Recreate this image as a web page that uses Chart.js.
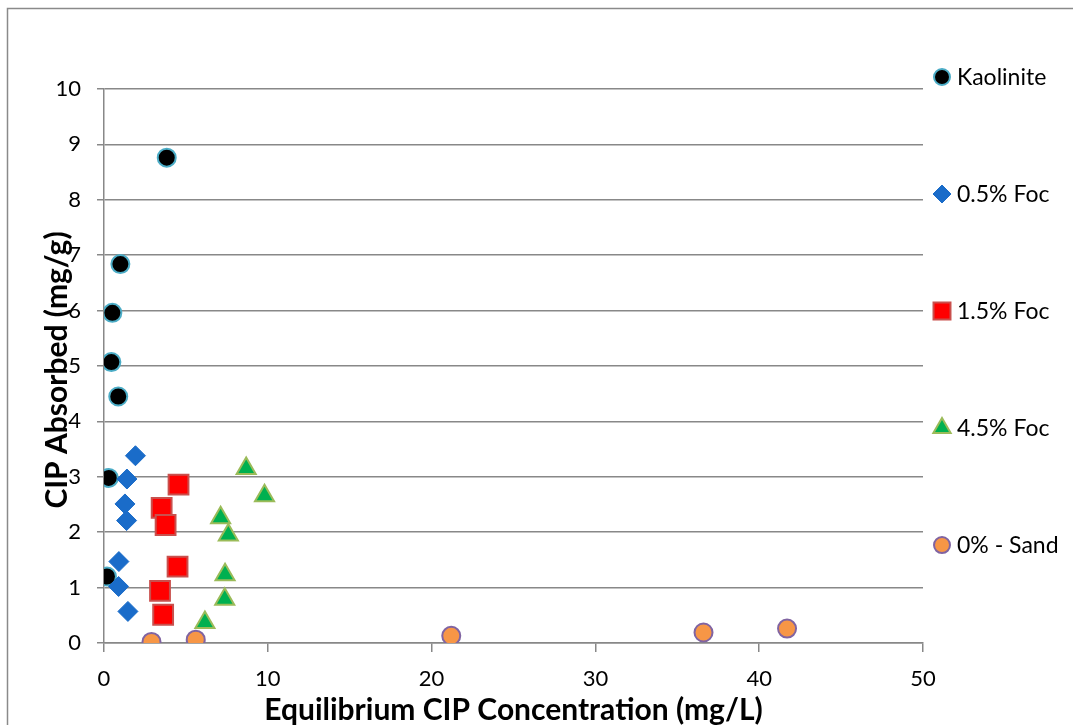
<!DOCTYPE html>
<html>
<head>
<meta charset="utf-8">
<script src="https://cdn.jsdelivr.net/npm/chart.js"></script>
<style>
  html, body { margin: 0; padding: 0; background: #fff; }
  #wrap { width: 1073px; height: 725px; position: relative; }
</style>
</head>
<body>
<div id="wrap"><canvas id="cipChart"></canvas></div>
<script>
// sorption data: equilibrium concentration (mg/L) vs amount absorbed (mg/g)
const seriesNames = ['Kaolinite', '0.5% Foc', '1.5% Foc', '4.5% Foc', '0% - Sand'];

const kaoliniteX = [3.83, 1.0, 0.51, 0.45, 0.87, 0.29, 0.18];
const kaoliniteY = [8.76, 6.84, 5.96, 5.07, 4.45, 2.98, 1.2];

const foc05X = [1.92, 1.40, 1.28, 1.38, 0.91, 0.89, 1.46];
const foc05Y = [3.38, 2.96, 2.51, 2.21, 1.47, 1.02, 0.57];

const foc15X = [4.55, 3.52, 3.76, 4.49, 3.42, 3.61];
const foc15Y = [2.86, 2.44, 2.13, 1.38, 0.94, 0.51];

const foc45X = [8.68, 9.80, 7.12, 7.59, 7.39, 7.37, 6.16];
const foc45Y = [3.15, 2.66, 2.26, 1.95, 1.23, 0.79, 0.37];

const sandX = [2.9, 5.6, 21.2, 36.6, 41.7];
const sandY = [0.02, 0.06, 0.13, 0.19, 0.26];

const xTicks = [0, 10, 20, 30, 40, 50];
const yTicks = [0, 1, 2, 3, 4, 5, 6, 7, 8, 9, 10];

const yTitle = 'CIP Absorbed (mg/g)';

const GRID = '#888888';
const FONT = 'Lato, Carlito, Calibri, sans-serif';

function pts(xs, ys) {
  return xs.map((x, i) => ({ x: x, y: ys[i] }));
}

// white page with a thin frame round the whole chart
const frame = {
  id: 'frame',
  beforeDraw(chart) {
    const ctx = chart.ctx;
    ctx.save();
    ctx.fillStyle = '#fff';
    ctx.fillRect(0, 0, chart.width, chart.height);
    ctx.strokeStyle = '#8a8a8a';
    ctx.lineWidth = 1.5;
    ctx.strokeRect(7.5, 8.5, chart.width + 20, chart.height + 20);
    ctx.restore();
  }
};

// vertical axis title, sitting partly over the tick labels
const sideTitle = {
  id: 'sideTitle',
  afterDraw(chart) {
    const ctx = chart.ctx;
    const area = chart.chartArea;
    ctx.save();
    ctx.translate(area.left - 47, (area.top + area.bottom) / 2 + 4);
    ctx.rotate(-Math.PI / 2);
    ctx.font = 'bold 30px ' + FONT;
    ctx.fillStyle = '#000';
    ctx.textAlign = 'center';
    ctx.textBaseline = 'middle';
    ctx.fillText(yTitle, 0, 0);
    ctx.restore();
  }
};

// legend spread down the right side, one entry every ~fifth of the plot height
const sideLegend = {
  id: 'sideLegend',
  afterDraw(chart) {
    const ctx = chart.ctx;
    const area = chart.chartArea;
    const step = (area.bottom - area.top) * 0.2112;
    ctx.save();
    ctx.font = '23px ' + FONT;
    ctx.textBaseline = 'middle';
    ctx.textAlign = 'left';
    chart.data.datasets.forEach((ds, i) => {
      const y = area.top - 12 + i * step;
      const x = area.right + 19;
      ctx.fillStyle = ds.backgroundColor;
      ctx.strokeStyle = ds.borderColor;
      ctx.lineWidth = ds.borderWidth;
      Chart.helpers.drawPoint(ctx, {
        pointStyle: ds.pointStyle,
        radius: ds.legendRadius,
        borderWidth: ds.borderWidth,
        rotation: 0
      }, x, y);
      ctx.fillStyle = '#000';
      ctx.fillText(ds.label, x + 15, y + 1);
    });
    ctx.restore();
  }
};

new Chart(document.getElementById('cipChart'), {
  type: 'scatter',
  data: {
    datasets: [
      {
        label: seriesNames[0],
        data: pts(kaoliniteX, kaoliniteY),
        pointStyle: 'circle',
        pointRadius: 9,
        legendRadius: 8,
        backgroundColor: '#000000',
        borderColor: '#4bacc6',
        borderWidth: 2,
        order: 4
      },
      {
        label: seriesNames[1],
        data: pts(foc05X, foc05Y),
        pointStyle: 'rectRot',
        pointRadius: 10,
        legendRadius: 9,
        backgroundColor: '#1a6cc9',
        borderColor: '#1a6cc9',
        borderWidth: 1,
        order: 3
      },
      {
        label: seriesNames[2],
        data: pts(foc15X, foc15Y),
        pointStyle: 'rect',
        pointRadius: 14,
        legendRadius: 12,
        backgroundColor: '#ff0000',
        borderColor: '#c9504d',
        borderWidth: 2,
        order: 2
      },
      {
        label: seriesNames[3],
        data: pts(foc45X, foc45Y),
        pointStyle: 'triangle',
        pointRadius: 11,
        legendRadius: 10,
        backgroundColor: '#00b050',
        borderColor: '#9bbb59',
        borderWidth: 2,
        order: 1
      },
      {
        label: seriesNames[4],
        data: pts(sandX, sandY),
        pointStyle: 'circle',
        pointRadius: 9,
        legendRadius: 8,
        backgroundColor: '#f79646',
        borderColor: '#8064a2',
        borderWidth: 2,
        order: 0
      }
    ]
  },
  options: {
    responsive: true,
    maintainAspectRatio: false,
    animation: false,
    layout: {
      padding: { left: 10, top: 89, right: 150, bottom: 0 }
    },
    plugins: {
      legend: { display: false },
      tooltip: { enabled: false }
    },
    scales: {
      x: {
        type: 'linear',
        min: 0,
        max: 50,
        afterFit: s => { s.height = 82; },
        afterBuildTicks: s => { s.ticks = xTicks.map(v => ({ value: v })); },
        grid: {
          drawOnChartArea: false,
          drawTicks: true,
          tickLength: 9,
          color: GRID,
          lineWidth: 1.5
        },
        border: { display: true, color: GRID, width: 1.5 },
        ticks: {
          color: '#000',
          padding: 14,
          font: { family: FONT, size: 22 }
        },
        title: {
          display: true,
          text: 'Equilibrium CIP Concentration (mg/L)',
          color: '#000',
          font: { family: FONT, size: 30, weight: 'bold', lineHeight: 1 },
          padding: { top: 0, bottom: 0 }
        }
      },
      y: {
        type: 'linear',
        min: 0,
        max: 10,
        afterFit: s => { s.width = 94; },
        afterBuildTicks: s => { s.ticks = yTicks.map(v => ({ value: v })); },
        grid: {
          drawOnChartArea: true,
          drawTicks: true,
          tickLength: 7,
          color: GRID,
          lineWidth: 1.5
        },
        border: { display: true, color: GRID, width: 1.5 },
        ticks: {
          color: '#000',
          padding: 16,
          font: { family: FONT, size: 22 }
        }
      }
    }
  },
  plugins: [frame, sideTitle, sideLegend]
});
</script>
</body>
</html>
